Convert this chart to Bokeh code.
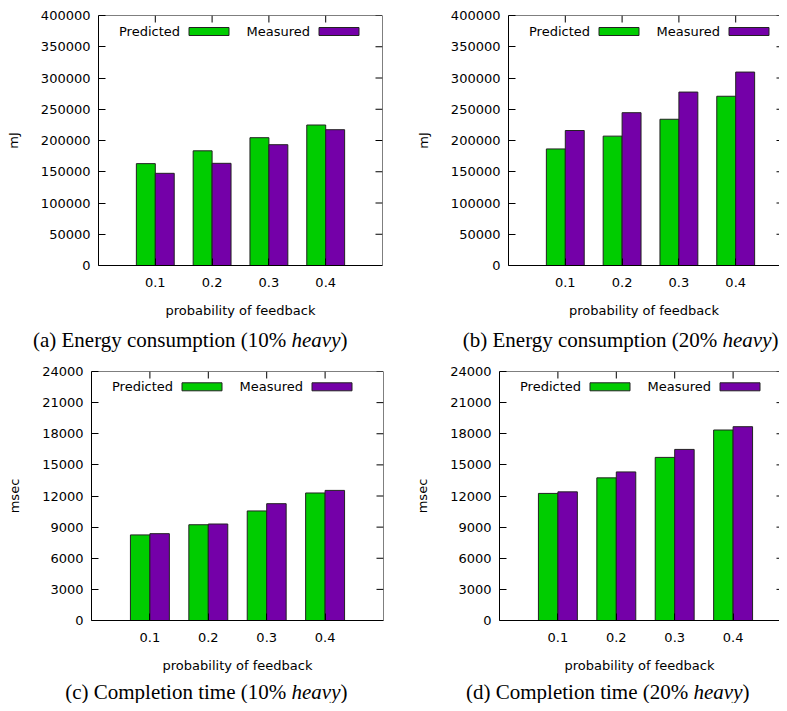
from bokeh.plotting import figure
from bokeh.layouts import column, row
from bokeh.models import (Range1d, FixedTicker, Label, BoxAnnotation, Span,
                          BasicTickFormatter)
from bokeh.core.properties import value
from bokeh.embed import file_html
from bokeh.resources import INLINE

# ---------------- data ----------------
categories = ["0.1", "0.2", "0.3", "0.4"]
series_names = ["Predicted", "Measured"]

energy10_predicted = [163000, 183500, 204500, 224800]
energy10_measured = [147500, 163500, 193300, 217300]
energy20_predicted = [186500, 207000, 234000, 270800]
energy20_measured = [216000, 244500, 277500, 309500]

time10_predicted = [8250, 9230, 10560, 12290]
time10_measured = [8370, 9300, 11260, 12540]
time20_predicted = [12250, 13750, 15720, 18360]
time20_measured = [12400, 14320, 16490, 18680]

energy_ticks = [0, 50000, 100000, 150000, 200000, 250000, 300000, 350000, 400000]
time_ticks = [0, 3000, 6000, 9000, 12000, 15000, 18000, 21000, 24000]

x_label = "probability of feedback"
energy_label = "mJ"
time_label = "msec"

captions = [
    ("(a) Energy consumption (10% ", "heavy", ")"),
    ("(b) Energy consumption (20% ", "heavy", ")"),
    ("(c) Completion time (10% ", "heavy", ")"),
    ("(d) Completion time (20% ", "heavy", ")"),
]

# ---------------- style ----------------
GREEN = "#00cc00"
PURPLE = "#7400a8"
EDGE = "#222222"
FONT = "DejaVu Sans"
FSIZE = "13px"
SERIF = "Liberation Serif"
BAR_W = 1.0 / 3.0


def make_panel(pred, meas, yticks, ylabel, left_b, frame_w, ppu, frame_h,
               top_b, bottom_b, right_b, right_border, right_tick, ylab_standoff,
               legend_dy):
    x_start = -1.0
    x_end = x_start + frame_w / ppu
    y_end = yticks[-1]
    p = figure(frame_width=frame_w, frame_height=frame_h,
               x_range=Range1d(x_start, x_end), y_range=Range1d(0, y_end),
               min_border_left=left_b, min_border_right=right_b,
               min_border_top=top_b, min_border_bottom=bottom_b,
               toolbar_location=None, output_backend="svg",
               outline_line_color=None)
    p.xgrid.visible = False
    p.ygrid.visible = False

    xpos = list(range(len(categories)))
    p.vbar(x=[i - BAR_W / 2 for i in xpos], top=pred, width=BAR_W, bottom=0,
           fill_color=GREEN, line_color=EDGE, line_width=1)
    p.vbar(x=[i + BAR_W / 2 for i in xpos], top=meas, width=BAR_W, bottom=0,
           fill_color=PURPLE, line_color=EDGE, line_width=1)

    xa = p.below[0]
    xa.ticker = FixedTicker(ticks=xpos)
    xa.major_label_overrides = {i: c for i, c in zip(xpos, categories)}
    xa.major_tick_in = 7
    xa.major_tick_out = 0
    xa.minor_tick_in = 0
    xa.minor_tick_out = 0
    xa.major_label_standoff = 12
    xa.major_label_text_font = FONT
    xa.major_label_text_font_size = FSIZE
    xa.major_label_text_color = "black"
    xa.axis_label = x_label
    xa.axis_label_text_font = FONT
    xa.axis_label_text_font_size = FSIZE
    xa.axis_label_text_font_style = "normal"
    xa.axis_label_text_color = "black"
    xa.axis_label_standoff = 13
    xa.axis_line_color = "black"
    xa.major_tick_line_color = "black"

    ya = p.left[0]
    ya.ticker = FixedTicker(ticks=yticks)
    ya.formatter = BasicTickFormatter(use_scientific=False)
    ya.major_tick_in = 7
    ya.major_tick_out = 0
    ya.minor_tick_in = 0
    ya.minor_tick_out = 0
    ya.major_label_standoff = 8
    ya.major_label_text_font = FONT
    ya.major_label_text_font_size = FSIZE
    ya.major_label_text_color = "black"
    ya.axis_label = ylabel
    ya.axis_label_text_font = FONT
    ya.axis_label_text_font_size = FSIZE
    ya.axis_label_text_font_style = "normal"
    ya.axis_label_text_color = "black"
    ya.axis_label_standoff = ylab_standoff
    ya.axis_line_color = "black"
    ya.major_tick_line_color = "black"

    xpp = 1.0 / ppu
    ypp = y_end / frame_h

    # top border with inward mirrored ticks
    p.add_layout(Span(location=y_end, dimension="width", line_color="black",
                      line_width=1))
    p.segment(x0=xpos, y0=[y_end] * len(xpos), x1=xpos,
              y1=[y_end - 7 * ypp] * len(xpos), line_color="black", line_width=1)
    # right border (if visible) with inward mirrored ticks
    if right_border:
        p.add_layout(Span(location=x_end, dimension="height", line_color="black",
                          line_width=1))
    p.segment(x0=[x_end] * len(yticks), y0=yticks,
              x1=[x_end - right_tick * xpp] * len(yticks), y1=yticks,
              line_color="black", line_width=1)

    # key (gnuplot style: text then swatch)
    def dx(px):
        return x_start + px * xpp

    yc = y_end - legend_dy * ypp
    for name, color, text_r, sw_l in ((series_names[0], GREEN, 81.5, 90.5),
                                      (series_names[1], PURPLE, 211.5, 220.5)):
        p.add_layout(Label(x=dx(text_r), y=yc, text=name, text_align="right",
                           text_baseline="middle", text_font=FONT,
                           text_font_size=FSIZE, text_color="black"))
        p.add_layout(BoxAnnotation(left=dx(sw_l), right=dx(sw_l + 40),
                                   bottom=yc - 4 * ypp, top=yc + 4 * ypp,
                                   fill_color=color, fill_alpha=1.0,
                                   line_color=EDGE, line_width=1, line_alpha=1.0))
    return p


def make_caption(x0, x1, ytop, ybot, parts, x_heavy, baseline):
    c = figure(frame_width=int(x1 - x0), frame_height=int(ybot - ytop),
               x_range=Range1d(x0, x1), y_range=Range1d(ybot, ytop),
               min_border=0, toolbar_location=None, output_backend="svg",
               x_axis_type=None, y_axis_type=None, outline_line_color=None)
    heavy_w = 49
    c.text(x=[x_heavy], y=[baseline], text=[parts[0]], text_align="right",
           text_baseline="alphabetic", text_font=value(SERIF),
           text_font_size=value("21px"), text_color="black")
    c.text(x=[x_heavy], y=[baseline], text=[parts[1]], text_align="left",
           text_baseline="alphabetic", text_font=value(SERIF),
           text_font_style="italic", text_font_size=value("21px"),
           text_color="black")
    c.text(x=[x_heavy + heavy_w], y=[baseline], text=[parts[2]], text_align="left",
           text_baseline="alphabetic", text_font=value(SERIF),
           text_font_size=value("21px"), text_color="black")
    return c


TOP_PPU = 284 / 5.0
BOT_PPU = 292 / 5.0

pa = make_panel(energy10_predicted, energy10_measured, energy_ticks, energy_label,
                98, 284, TOP_PPU, 250, 15, 57, 13, True, 7, 17, 16)
pb = make_panel(energy20_predicted, energy20_measured, energy_ticks, energy_label,
                113, 271, TOP_PPU, 250, 15, 57, 0, False, 3, 17, 16)
pc = make_panel(time10_predicted, time10_measured, time_ticks, time_label,
                91, 292, BOT_PPU, 249, 13, 55, 12, True, 7, 17, 15.3)
pd = make_panel(time20_predicted, time20_measured, time_ticks, time_label,
                104, 280, BOT_PPU, 249, 13, 55, 0, False, 3, 17, 15.3)

ca = make_caption(0, 395, 322, 358, captions[0], 291, 339.2)
cb = make_caption(395, 779, 322, 358, captions[1], 722, 339.2)
cc = make_caption(0, 395, 675, 703, captions[2], 291, 691.0)
cd = make_caption(395, 779, 675, 703, captions[3], 693, 691.0)

layout = column(row(pa, pb), row(ca, cb), row(pc, pd), row(cc, cd))

open("out.html", "w").write(file_html(layout, INLINE))
